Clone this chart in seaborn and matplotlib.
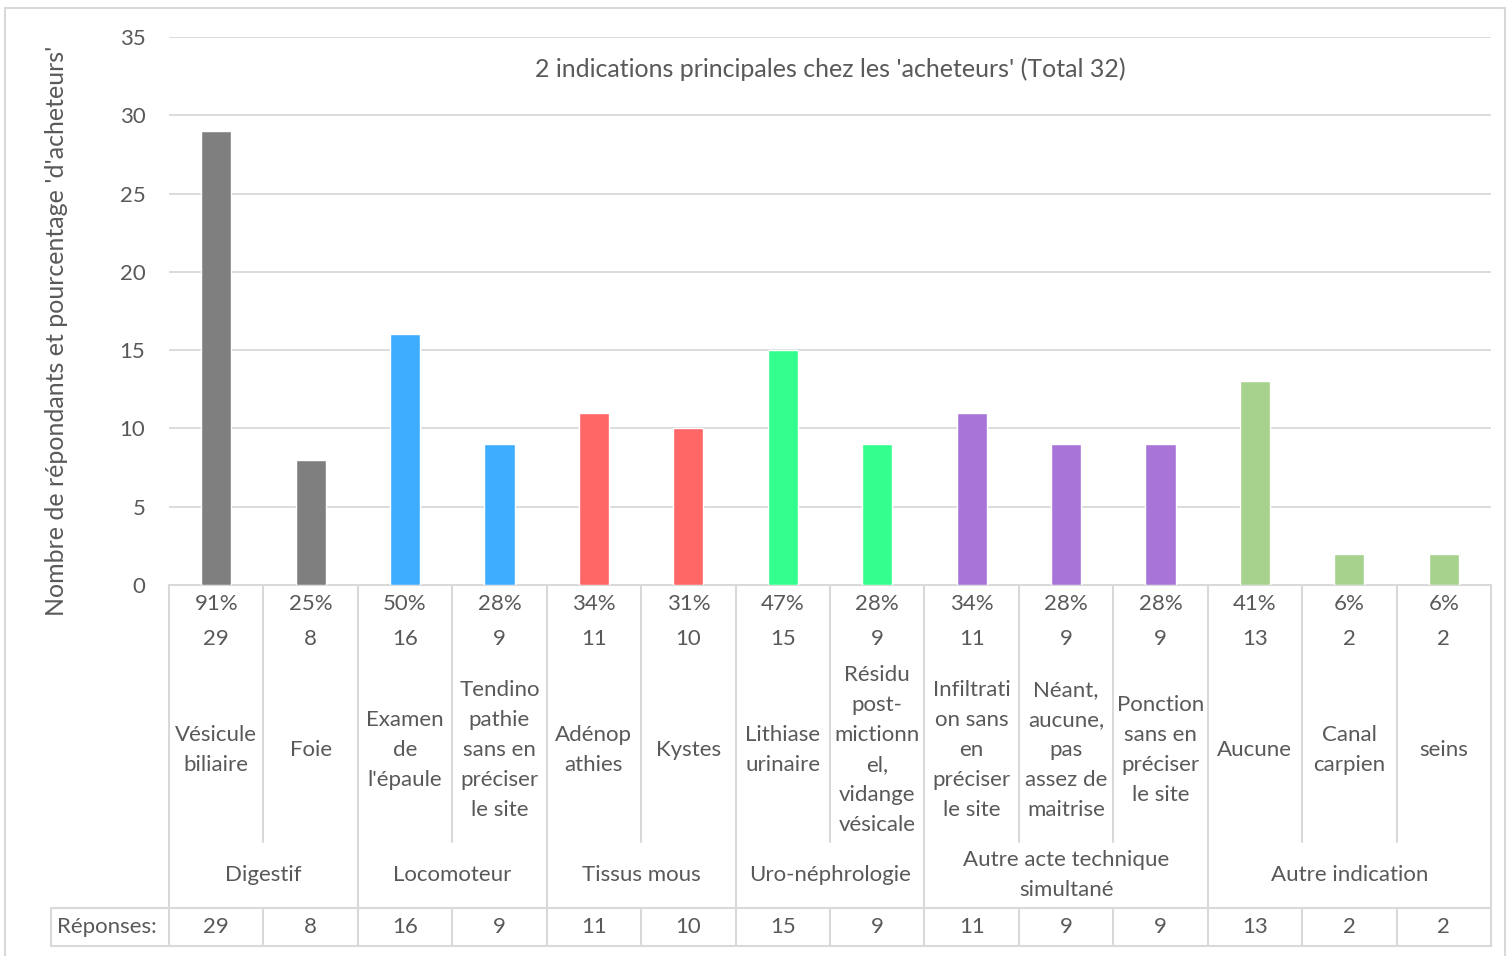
import matplotlib
matplotlib.use("Agg")
import matplotlib.pyplot as plt
import seaborn as sns
import pandas as pd
from matplotlib.lines import Line2D
from matplotlib.patches import Rectangle
from matplotlib import transforms

# ---- data -------------------------------------------------------------
categories = [
    "Vésicule\nbiliaire", "Foie",
    "Examen\nde\nl'épaule", "Tendino\npathie\nsans en\npréciser\nle site",
    "Adénop\nathies", "Kystes",
    "Lithiase\nurinaire", "Résidu\npost-\nmictionn\nel,\nvidange\nvésicale",
    "Infiltrati\non sans\nen\npréciser\nle site",
    "Néant,\naucune,\npas\nassez de\nmaitrise",
    "Ponction\nsans en\npréciser\nle site",
    "Aucune", "Canal\ncarpien", "seins",
]
counts = [29, 8, 16, 9, 11, 10, 15, 9, 11, 9, 9, 13, 2, 2]
percent_labels = ["91%", "25%", "50%", "28%", "34%", "31%", "47%", "28%",
                  "34%", "28%", "28%", "41%", "6%", "6%"]
groups = ["Digestif", "Locomoteur", "Tissus mous", "Uro-néphrologie",
          "Autre acte technique\nsimultané", "Autre indication"]
group_sizes = [2, 2, 2, 2, 3, 3]
group_colors = ["#7F7F7F", "#3DAEFF", "#FF6666", "#33FF8F", "#A974D8", "#A6D28E"]
yticks = [0, 5, 10, 15, 20, 25, 30, 35]
title = "2 indications principales chez les 'acheteurs' (Total 32)"
ylabel = "Nombre de répondants et pourcentage 'd'acheteurs'"
table_header = "Réponses:"

# ---- style ------------------------------------------------------------
W, H = 1510, 956
TXT = "#595959"
GRID = "#D9D9D9"
FS = 16
FS_BIG = 18
LS = 1.62

sns.set_theme(style="white")
plt.rcParams["font.family"] = ["Lato", "DejaVu Sans"]

fig = plt.figure(figsize=(W / 100, H / 100), dpi=100)
L, R, T, B = 169, 1491, 37, 585
ax = fig.add_axes([L / W, 1 - B / H, (R - L) / W, (B - T) / H])

bar_colors = [c for c, n in zip(group_colors, group_sizes) for _ in range(n)]
df = pd.DataFrame({"cat": categories, "n": counts})
sns.barplot(data=df, x="cat", y="n", hue="cat", palette=bar_colors,
            legend=False, width=0.32, saturation=1, ax=ax, zorder=3)

ax.set_xlim(-0.5, len(categories) - 0.5)
ax.set_ylim(0, 35)
ax.set_yticks(yticks)
ax.set_xticks([])
ax.set_xlabel("")
ax.set_ylabel("")
ax.yaxis.grid(True, color=GRID, lw=1.3, zorder=0)
ax.set_axisbelow(True)
for s in ["left", "right", "top"]:
    ax.spines[s].set_visible(False)
ax.spines["bottom"].set_color(GRID)
ax.spines["bottom"].set_linewidth(1.5)
ax.tick_params(axis="y", length=0, pad=17, labelsize=FS, labelcolor=TXT)

fig.text(0.5 * (L + R) / W, 1 - 69 / H, title, ha="center", va="center",
         fontsize=FS_BIG, color=TXT)
fig.text(57 / W, 1 - 331 / H, ylabel, rotation=90, ha="center", va="center",
         fontsize=FS_BIG, color=TXT)

# ---- multi-level category axis and data table ---------------------------
fy = lambda y: 1 - y / H
trans = transforms.blended_transform_factory(ax.transData, fig.transFigure)


def vline(x, y0, y1, tr=trans):
    fig.add_artist(Line2D([x, x], [fy(y0), fy(y1)], transform=tr,
                          color=GRID, lw=1.5))


group_edges = [0]
for n in group_sizes:
    group_edges.append(group_edges[-1] + n)

for k in range(len(categories) + 1):
    x = k - 0.5
    if k in group_edges:
        vline(x, 585, 946)
    else:
        vline(x, 585, 842)
        vline(x, 908, 946)

x0 = 51 / W
x_end = ax.transData.transform((len(categories) - 0.5, 0))[0] / W
for y in (908, 946):
    fig.add_artist(Line2D([x0, x_end], [fy(y), fy(y)],
                          transform=fig.transFigure, color=GRID, lw=1.5))
vline(x0, 908, 946, tr=fig.transFigure)

for i, (cat, n, p) in enumerate(zip(categories, counts, percent_labels)):
    fig.text(i, fy(604), p, transform=trans, ha="center", va="center",
             fontsize=FS, color=TXT)
    fig.text(i, fy(639), str(n), transform=trans, ha="center", va="center",
             fontsize=FS, color=TXT)
    fig.text(i, fy(750), cat, transform=trans, ha="center", va="center",
             fontsize=FS, color=TXT, linespacing=LS)
    fig.text(i, fy(927), str(n), transform=trans, ha="center", va="center",
             fontsize=FS, color=TXT)

for g, a, b in zip(groups, group_edges[:-1], group_edges[1:]):
    fig.text((a + b - 1) / 2, fy(875), g, transform=trans, ha="center",
             va="center", fontsize=FS, color=TXT, linespacing=LS)

fig.text(57 / W, fy(927), table_header, ha="left", va="center",
         fontsize=FS, color=TXT)

# chart frame
fig.add_artist(Rectangle((5 / W, fy(990)), 1500 / W, (990 - 8) / H,
                         transform=fig.transFigure, fill=False,
                         edgecolor=GRID, lw=1.5))

fig.savefig("out.png", dpi=100, facecolor="white")
